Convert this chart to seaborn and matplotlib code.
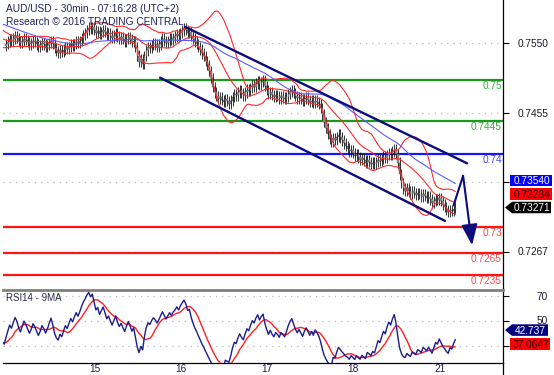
import numpy as np
import pandas as pd
import matplotlib
matplotlib.use("Agg")
import matplotlib.pyplot as plt
import matplotlib.transforms as mtransforms
from matplotlib.patches import Polygon
import seaborn as sns

# ---------------- data ----------------
TITLE_LINE1 = "AUD/USD - 30min - 07:16:28 (UTC+2)"
TITLE_LINE2 = "Research © 2016 TRADING CENTRAL"
RSI_TITLE = "RSI14 - 9MA"

# 30-minute closes; PRE_CLOSE is warm-up history for the indicators
PRE_CLOSE = [
    0.7597, 0.7600, 0.7598, 0.7601, 0.7603, 0.7600, 0.7598, 0.7601, 0.7599, 0.7596,
    0.7598, 0.7595, 0.7593, 0.7596, 0.7594, 0.7590, 0.7587, 0.7589, 0.7585, 0.7582,
    0.7584, 0.7580, 0.7577, 0.7579, 0.7575, 0.7572, 0.7574, 0.7570, 0.7567, 0.7569,
    0.7565, 0.7562, 0.7564, 0.7560, 0.7558, 0.7561, 0.7558, 0.7555, 0.7557, 0.7554,
    0.7552, 0.7555, 0.7553, 0.7550, 0.7552, 0.7549, 0.7547, 0.7550, 0.7548, 0.7546]
CLOSE_D14 = [
    0.7549, 0.7552, 0.7555, 0.7553, 0.7556, 0.7559, 0.7557, 0.7553, 0.7550, 0.7553,
    0.7556, 0.7554, 0.7551, 0.7548, 0.7550, 0.7553, 0.7551, 0.7548, 0.7545, 0.7547,
    0.7550, 0.7548, 0.7545, 0.7547, 0.7550, 0.7553, 0.7549, 0.7543, 0.7539, 0.7537,
    0.7540, 0.7538, 0.7541, 0.7544, 0.7542, 0.7545, 0.7548, 0.7546, 0.7549, 0.7552,
    0.7550, 0.7553, 0.7557, 0.7561, 0.7564, 0.7568]
CLOSE_D15 = [
    0.7571, 0.7569, 0.7572, 0.7568, 0.7564, 0.7566, 0.7562, 0.7565, 0.7568, 0.7565,
    0.7561, 0.7563, 0.7560, 0.7557, 0.7560, 0.7563, 0.7559, 0.7556, 0.7558, 0.7555,
    0.7552, 0.7555, 0.7558, 0.7555, 0.7551, 0.7553, 0.7545, 0.7533, 0.7524, 0.7528,
    0.7522, 0.7532, 0.7540, 0.7545, 0.7543, 0.7547, 0.7550, 0.7548, 0.7545, 0.7548,
    0.7552, 0.7556, 0.7553, 0.7550, 0.7553, 0.7556, 0.7554, 0.7557]
CLOSE_D16 = [
    0.7559, 0.7562, 0.7560, 0.7564, 0.7567, 0.7570, 0.7568, 0.7564, 0.7565, 0.7560,
    0.7556, 0.7552, 0.7549, 0.7545, 0.7541, 0.7536, 0.7532, 0.7526, 0.7520, 0.7512,
    0.7503, 0.7490, 0.7483, 0.7478, 0.7474, 0.7477, 0.7473, 0.7470, 0.7474, 0.7471,
    0.7468, 0.7472, 0.7477, 0.7481, 0.7479, 0.7483, 0.7486, 0.7482, 0.7479, 0.7483,
    0.7487, 0.7485, 0.7489, 0.7493, 0.7491, 0.7495, 0.7498, 0.7494]
CLOSE_D17 = [
    0.7497, 0.7499, 0.7492, 0.7486, 0.7481, 0.7484, 0.7480, 0.7477, 0.7480, 0.7478,
    0.7475, 0.7478, 0.7476, 0.7474, 0.7477, 0.7481, 0.7484, 0.7486, 0.7482, 0.7478,
    0.7475, 0.7477, 0.7474, 0.7471, 0.7474, 0.7476, 0.7473, 0.7470, 0.7472, 0.7469,
    0.7472, 0.7470, 0.7467, 0.7462, 0.7453, 0.7443, 0.7435, 0.7427, 0.7420, 0.7416,
    0.7421, 0.7419, 0.7423, 0.7426, 0.7422, 0.7418, 0.7414, 0.7410]
CLOSE_D18 = [
    0.7407, 0.7403, 0.7405, 0.7401, 0.7397, 0.7399, 0.7395, 0.7392, 0.7394, 0.7391,
    0.7388, 0.7391, 0.7389, 0.7386, 0.7388, 0.7386, 0.7389, 0.7392, 0.7390, 0.7393,
    0.7396, 0.7394, 0.7398, 0.7401, 0.7399, 0.7403, 0.7406, 0.7400, 0.7388, 0.7372,
    0.7360, 0.7353, 0.7350, 0.7353, 0.7349, 0.7346, 0.7349, 0.7347, 0.7344, 0.7347,
    0.7345, 0.7342, 0.7345, 0.7343, 0.7340, 0.7342, 0.7338, 0.7333]
CLOSE_D21 = [
    0.7336, 0.7339, 0.7337, 0.7340, 0.7336, 0.7331, 0.7328, 0.7324, 0.7321, 0.7324,
    0.7322, 0.7325, 0.73271]

DAY_LABELS = ["15", "16", "17", "18", "21"]
DAY_START = [45, 93, 141, 189, 237]          # bar index where each day starts

LEVELS = [0.75, 0.7445, 0.74, 0.73, 0.7265, 0.7235]
LEVEL_LABELS = ["0.75", "0.7445", "0.74", "0.73", "0.7265", "0.7235"]
LEVEL_KIND = ["g", "g", "b", "r", "r", "r"]

PRICE_TICKS = [0.7550, 0.7455, 0.7361, 0.7267]
PRICE_TICK_LABELS = ["0.7550", "0.7455", "", "0.7267"]
RSI_TICKS = [70, 50, 30]
RSI_TICK_LABELS = ["70", "50", ""]

CHANNEL_UPPER_X = [99.5, 256.5]
CHANNEL_UPPER_Y = [0.7572, 0.7387]
CHANNEL_LOWER_X = [85.7, 244.2]
CHANNEL_LOWER_Y = [0.7503, 0.7309]
ARROW_X = [249.0, 254.3, 259.3]
ARROW_Y = [0.7330, 0.7370, 0.7276]

PRICE_BOX_LABELS = ["0.73540", "0.73284", "0.73271"]
LAST_CLOSE = 0.73271
RSI_LAST = 42.737
RSI_BOX_LABELS = ["42.737", "37.0647"]

# ---------------- indicators ----------------
close = np.array(PRE_CLOSE + CLOSE_D14 + CLOSE_D15 + CLOSE_D16 + CLOSE_D17 + CLOSE_D18 + CLOSE_D21)
n_pre = len(PRE_CLOSE)
idx = np.arange(len(close)) - n_pre
s = pd.Series(close)
sma50 = s.rolling(50, min_periods=1).mean()
bb_mid = s.rolling(20, min_periods=1).mean()
bb_sd = s.rolling(20, min_periods=2).std(ddof=0)
bb_up = bb_mid + 2 * bb_sd
bb_lo = bb_mid - 2 * bb_sd
d = s.diff()
gain = d.clip(lower=0).ewm(alpha=1 / 14, adjust=False).mean()
loss = (-d.clip(upper=0)).ewm(alpha=1 / 14, adjust=False).mean()
rsi = 100 - 100 / (1 + gain / loss)
rsi_ma = rsi.rolling(9).mean()

df = pd.DataFrame({"idx": idx, "close": close, "sma50": sma50, "bb_mid": bb_mid,
                   "bb_up": bb_up, "bb_lo": bb_lo, "rsi": rsi, "rsi_ma": rsi_ma})
df = df[df["idx"] >= -2]

# ---------------- figure ----------------
sns.set_style("white")
plt.rcParams["font.family"] = ["Liberation Sans", "DejaVu Sans"]

W, H = 554, 375
fig = plt.figure(figsize=(W / 100, H / 100), dpi=100)


def box(x0, ytop, x1, ybot):
    return [x0 / W, 1 - ybot / H, (x1 - x0) / W, (ybot - ytop) / H]


ax = fig.add_axes(box(3, 0, 503, 290))
axr = fig.add_axes(box(3, 290, 503, 363), sharex=ax)

ax.set_xlim(-1.7, 276.5)
ax.set_ylim(0.72153, 0.76083)
axr.set_ylim(16.4, 74.8)

GRID = dict(color="#b8b8b8", linestyle=(0, (1, 4)), linewidth=0.9)
for t in PRICE_TICKS:
    ax.axhline(t, zorder=1, **GRID)
for t in RSI_TICKS:
    axr.axhline(t, zorder=1, **GRID)

# levels
LINE_COL = {"g": "#1a9a1a", "b": "#1515ff", "r": "#ff1414"}
TXT_COL = {"g": "#3aaa3a", "b": "#4a4aff", "r": "#ff4a4a"}
blend = mtransforms.blended_transform_factory(ax.transAxes, ax.transData)
lab_tr = mtransforms.offset_copy(blend, fig=fig, x=0, y=-9, units="dots")
for lv, lb, k in zip(LEVELS, LEVEL_LABELS, LEVEL_KIND):
    ax.axhline(lv, color=LINE_COL[k], lw=1.6, zorder=2)
    ax.text(0.998, lv, lb, transform=lab_tr, ha="right", va="baseline",
            color=TXT_COL[k], fontsize=7.3)

# candles
vis = np.where(idx >= 0)[0]
c = close[vis]
o = close[vis - 1]
x = idx[vis]
WICK = 0.0007
hi = np.maximum(o, c) + WICK
lo = np.minimum(o, c) - WICK
ax.vlines(x, lo, hi, color="#111111", lw=0.6, zorder=3)
ax.bar(x, np.maximum(np.abs(c - o), 0.00010), bottom=np.minimum(o, c), width=0.8,
       color="#9c9c9c", edgecolor="#303030", linewidth=0.25, zorder=4)

# indicator lines
kw = dict(ax=ax, estimator=None, sort=False, legend=False)
for col in ["bb_up", "bb_mid", "bb_lo"]:
    sns.lineplot(data=df, x="idx", y=col, color="#ff2a2a", lw=0.8, zorder=5, **kw)
sns.lineplot(data=df, x="idx", y="sma50", color="#5a5aff", lw=0.8, zorder=5, **kw)

# channel and arrow
NAVY = "#0c0c7a"
sns.lineplot(x=CHANNEL_UPPER_X, y=CHANNEL_UPPER_Y, color=NAVY, lw=1.7, zorder=6, **kw)
sns.lineplot(x=CHANNEL_LOWER_X, y=CHANNEL_LOWER_Y, color=NAVY, lw=1.7, zorder=6, **kw)
sns.lineplot(x=ARROW_X[:2], y=ARROW_Y[:2], color=NAVY, lw=1.5, zorder=6, **kw)
ax.annotate("", xy=(ARROW_X[2], ARROW_Y[2]), xytext=(ARROW_X[1], ARROW_Y[1]),
            arrowprops=dict(arrowstyle="-|>,head_length=0.9,head_width=0.35", color=NAVY,
                            lw=1.5, shrinkA=0, shrinkB=0, mutation_scale=14), zorder=6)

# RSI panel
kwr = dict(ax=axr, estimator=None, sort=False, legend=False)
sns.lineplot(data=df, x="idx", y="rsi_ma", color="#ff2020", lw=1.0, zorder=3, **kwr)
sns.lineplot(data=df, x="idx", y="rsi", color="#1c1c8c", lw=1.0, zorder=4, **kwr)

for a in (ax, axr):
    a.set_xlabel("")
    a.set_ylabel("")
    a.yaxis.tick_right()
    a.spines["left"].set_visible(False)
    a.spines["right"].set_color("black")
    a.spines["right"].set_linewidth(0.9)
    a.tick_params(axis="y", direction="out", length=4, width=0.8, color="black",
                  labelright=False, labelleft=False)
ax.spines["top"].set_visible(False)
ax.spines["bottom"].set_visible(False)
ax.tick_params(axis="x", bottom=False, labelbottom=False)
ax.set_yticks(PRICE_TICKS)
axr.set_yticks(RSI_TICKS)
axr.spines["top"].set_color("#808080")
axr.spines["top"].set_linewidth(2.0)
axr.spines["bottom"].set_color("black")
axr.spines["bottom"].set_linewidth(0.9)
axr.set_xticks(DAY_START)
axr.tick_params(axis="x", direction="out", length=4, width=0.8, color="black",
                labelbottom=False)

TXT = "#1a1a2a"
for a, ticks, labels in ((ax, PRICE_TICKS, PRICE_TICK_LABELS), (axr, RSI_TICKS, RSI_TICK_LABELS)):
    bt = mtransforms.blended_transform_factory(a.transAxes, a.transData)
    bt = mtransforms.offset_copy(bt, fig=fig, x=0, y=-3.5, units="dots")
    for t, lb in zip(ticks, labels):
        a.text(1.09, t, lb, transform=bt, ha="right", va="baseline", fontsize=7.3,
               color=TXT, clip_on=False)

dt = mtransforms.blended_transform_factory(axr.transData, axr.transAxes)
dt = mtransforms.offset_copy(dt, fig=fig, x=2, y=-9.5, units="dots")
for p, lb in zip(DAY_START, DAY_LABELS):
    axr.text(p, 0, lb, transform=dt, ha="left", va="baseline", fontsize=7.3, color="#1e1e4a",
             clip_on=False)

TITLE_COL = "#22225e"
fig.text(6 / W, 1 - 12 / H, TITLE_LINE1, fontsize=7.3, color=TITLE_COL, va="baseline")
fig.text(6 / W, 1 - 25 / H, TITLE_LINE2, fontsize=7.3, color=TITLE_COL, va="baseline")
rt = mtransforms.offset_copy(axr.transAxes, fig=fig, x=3, y=-11, units="dots")
axr.text(0, 1, RSI_TITLE, transform=rt, fontsize=7.0, color="#2a2a4a", va="baseline")

# ---------------- value boxes (overlay in pixel coords) ----------------
ov = fig.add_axes([0, 0, 1, 1], zorder=20)
ov.set_xlim(0, W)
ov.set_ylim(H, 0)
ov.axis("off")
ov.patch.set_alpha(0)


def img_y(a, val):
    return H - a.transData.transform((0, val))[1]


def value_box(yc, label, face, tcol, x0, x1, pointer=False, h=11.5):
    if pointer:
        pts = [(x0, yc), (x0 + 7, yc - h / 2), (x1, yc - h / 2), (x1, yc + h / 2), (x0 + 7, yc + h / 2)]
        bx0 = x0 + 7
    else:
        pts = [(x0, yc - h / 2), (x1, yc - h / 2), (x1, yc + h / 2), (x0, yc + h / 2)]
        bx0 = x0
    ov.add_patch(Polygon(pts, closed=True, facecolor=face, edgecolor="none", clip_on=False))
    ov.text((bx0 + x1) / 2 + 0.5, yc + 3.6, label, ha="center", va="baseline", fontsize=7.3,
            color=tcol, clip_on=False)


yl = img_y(ax, LAST_CLOSE)
value_box(yl - 27, PRICE_BOX_LABELS[0], "#0000ff", "white", 510, 552)
value_box(yl - 13.5, PRICE_BOX_LABELS[1], "#ff0000", "#1a0000", 510, 552)
value_box(yl, PRICE_BOX_LABELS[2], "black", "white", 505, 551, pointer=True)
yr = img_y(axr, RSI_LAST)
value_box(yr, RSI_BOX_LABELS[0], "#000080", "white", 505, 548, pointer=True)
value_box(yr + 14, RSI_BOX_LABELS[1], "#ff0000", "#1a0000", 510, 550)
ov.plot([503, 503], [363, 375], color="black", lw=0.9, clip_on=False)

fig.savefig("out.png", dpi=100)
